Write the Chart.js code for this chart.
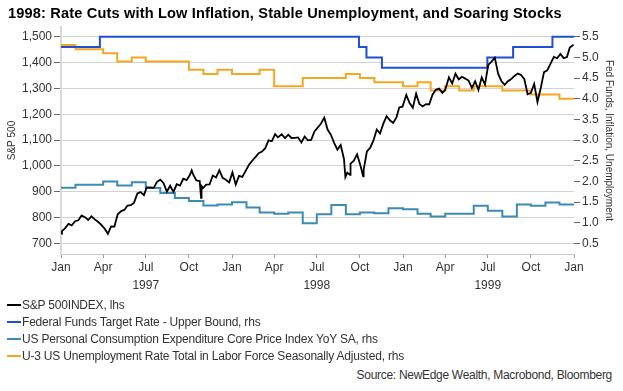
<!DOCTYPE html>
<html><head><meta charset="utf-8">
<script src="https://cdn.jsdelivr.net/npm/chart.js@4.4.1/dist/chart.umd.min.js"></script>
<style>
html,body{margin:0;padding:0;background:#fff;}
#wrap{position:relative;width:623px;height:391px;overflow:hidden;font-family:"Liberation Sans",Arial,sans-serif;}
#c{position:absolute;left:0;top:0;}
#title{position:absolute;left:8px;top:5px;font-weight:bold;font-size:14.6px;line-height:16px;color:#000;white-space:nowrap;letter-spacing:0.15px;}
.lg{position:absolute;left:7px;font-size:12px;line-height:14px;color:#333;white-space:nowrap;letter-spacing:-0.2px;}
.lg i{display:inline-block;width:14px;height:2px;vertical-align:middle;margin-right:1px;position:relative;top:-1px;}
#src{position:absolute;right:11px;font-size:12px;line-height:14px;color:#333;white-space:nowrap;letter-spacing:-0.3px;}
</style></head>
<body>
<div id="wrap">
<canvas id="c" width="623" height="300"></canvas>
<div id="title">1998: Rate Cuts with Low Inflation, Stable Unemployment, and Soaring Stocks</div>
<div class="lg" style="top:298px"><i style="background:#000"></i>S&amp;P 500INDEX, lhs</div>
<div class="lg" style="top:315px"><i style="background:#1f4fd4"></i>Federal Funds Target Rate - Upper Bound, rhs</div>
<div class="lg" style="top:332px"><i style="background:#3a8cb4"></i>US Personal Consumption Expenditure Core Price Index YoY SA, rhs</div>
<div class="lg" style="top:349px"><i style="background:#f5a623"></i>U-3 US Unemployment Rate Total in Labor Force Seasonally Adjusted, rhs</div>
<div id="src" style="top:368px">Source: NewEdge Wealth, Macrobond, Bloomberg</div>
</div>
<script>
// ---- data ----
const spDates = [
'1997-01-02','1997-01-03','1997-01-10','1997-01-17','1997-01-24','1997-01-31','1997-02-07','1997-02-14','1997-02-21','1997-02-28','1997-03-07','1997-03-14','1997-03-21','1997-03-27','1997-04-04','1997-04-11','1997-04-18','1997-04-25','1997-05-02','1997-05-09','1997-05-16','1997-05-23','1997-05-30','1997-06-06','1997-06-13','1997-06-20','1997-06-27','1997-07-03','1997-07-11','1997-07-18','1997-07-25','1997-08-01','1997-08-08','1997-08-15','1997-08-22','1997-08-29','1997-09-05','1997-09-12','1997-09-19','1997-09-26','1997-10-03','1997-10-07','1997-10-10','1997-10-17','1997-10-24','1997-10-27','1997-10-28','1997-10-31','1997-11-07','1997-11-14','1997-11-21','1997-11-28','1997-12-05','1997-12-12','1997-12-19','1997-12-26',
'1998-01-02','1998-01-09','1998-01-16','1998-01-23','1998-01-30','1998-02-06','1998-02-13','1998-02-20','1998-02-27','1998-03-06','1998-03-13','1998-03-20','1998-03-27','1998-04-03','1998-04-09','1998-04-17','1998-04-24','1998-05-01','1998-05-08','1998-05-15','1998-05-22','1998-05-29','1998-06-05','1998-06-12','1998-06-19','1998-06-26','1998-07-02','1998-07-10','1998-07-17','1998-07-24','1998-07-31','1998-08-07','1998-08-14','1998-08-21','1998-08-28','1998-08-31','1998-09-04','1998-09-10','1998-09-11','1998-09-18','1998-09-25','1998-10-02','1998-10-08','1998-10-09','1998-10-16','1998-10-23','1998-10-30','1998-11-06','1998-11-13','1998-11-20','1998-11-27','1998-12-04','1998-12-11','1998-12-18','1998-12-24','1998-12-31',
'1999-01-08','1999-01-15','1999-01-22','1999-01-29','1999-02-05','1999-02-12','1999-02-19','1999-02-26','1999-03-05','1999-03-12','1999-03-19','1999-03-26','1999-04-01','1999-04-09','1999-04-16','1999-04-23','1999-04-30','1999-05-07','1999-05-14','1999-05-21','1999-05-28','1999-06-04','1999-06-11','1999-06-18','1999-06-25','1999-07-02','1999-07-09','1999-07-16','1999-07-23','1999-07-30','1999-08-06','1999-08-13','1999-08-20','1999-08-27','1999-09-03','1999-09-10','1999-09-17','1999-09-24','1999-10-01','1999-10-08','1999-10-15','1999-10-22','1999-10-29','1999-11-05','1999-11-12','1999-11-19','1999-11-26','1999-12-03','1999-12-10','1999-12-17','1999-12-23','1999-12-31'];
const spValues = [
737.0,748.0,759.5,776.2,770.5,786.2,789.6,808.5,801.8,790.8,804.9,793.2,784.1,773.9,757.9,737.7,766.3,765.4,812.9,824.8,829.8,847.0,848.3,858.0,893.3,898.7,887.3,916.9,916.7,915.3,938.8,947.1,933.5,900.8,923.5,899.5,929.1,923.9,950.5,945.2,965.0,983.1,966.9,944.2,941.6,877.0,921.9,914.6,927.5,928.4,963.1,955.4,983.8,954.0,946.8,936.5,
975.0,927.7,961.5,957.6,980.3,1003.5,1020.1,1034.2,1049.3,1055.7,1068.6,1099.2,1095.4,1122.7,1110.7,1122.7,1107.9,1121.0,1108.1,1108.7,1110.5,1090.8,1113.9,1098.8,1100.7,1133.2,1146.4,1164.3,1186.8,1140.8,1120.7,1089.5,1062.8,1081.2,1027.1,957.3,973.9,965.5,1009.1,1020.1,1044.8,1002.6,959.4,984.6,1056.4,1070.7,1098.7,1141.0,1125.7,1163.6,1192.3,1176.7,1166.5,1188.0,1226.3,1229.2,
1275.1,1243.3,1225.2,1279.6,1239.4,1230.1,1239.2,1238.3,1275.5,1294.6,1299.3,1282.8,1293.7,1343.0,1319.0,1356.9,1335.2,1345.0,1337.8,1330.3,1301.8,1327.8,1293.6,1342.8,1315.3,1391.2,1403.3,1418.8,1356.9,1328.7,1313.7,1327.7,1336.6,1348.3,1357.2,1351.7,1335.4,1277.4,1282.8,1317.6,1247.4,1301.7,1362.9,1370.2,1396.1,1422.0,1416.6,1433.3,1417.0,1421.0,1458.3,1469.3];

const fedDates  = ['1997-01-01','1997-03-25','1998-09-29','1998-10-15','1998-11-17','1999-06-30','1999-08-24','1999-11-16','2000-01-01'];
const fedValues = [5.25,5.5,5.25,5.0,4.75,5.0,5.25,5.5,5.5];

// monthly, Jan 1997 .. Dec 1999
const pceValues = [1.85,1.92,1.92,2.00,1.90,1.98,1.84,1.72,1.60,1.53,1.42,1.44,
                   1.50,1.37,1.25,1.22,1.25,0.99,1.21,1.43,1.21,1.25,1.23,1.35,
                   1.33,1.22,1.15,1.22,1.22,1.41,1.29,1.15,1.44,1.41,1.49,1.44];
const unempValues = [5.3,5.2,5.2,5.1,4.9,5.0,4.9,4.9,4.9,4.7,4.6,4.7,
                     4.6,4.6,4.7,4.3,4.3,4.5,4.5,4.5,4.6,4.5,4.4,4.4,
                     4.3,4.4,4.2,4.3,4.2,4.3,4.3,4.2,4.2,4.1,4.1,4.0];

const monthNames = ['Jan','Apr','Jul','Oct'];
const yearLabels = ['1997','1998','1999'];
const leftTicks  = [700,800,900,1000,1100,1200,1300,1400,1500];
const rightTicks = [0.5,1.0,1.5,2.0,2.5,3.0,3.5,4.0,4.5,5.0,5.5];

// ---- helpers ----
function dayX(s){const p=s.split('-').map(Number);return (Date.UTC(p[0],p[1]-1,p[2])-Date.UTC(1997,0,1))/864e5;}
function pad(n){return (n<10?'0':'')+n;}
const monthStarts=[];
for(let y=1997;y<=1999;y++)for(let m=1;m<=12;m++)monthStarts.push(y+'-'+pad(m)+'-01');
const endDate='2000-01-01';
function monthly(vals){const d=monthStarts.map((s,i)=>({x:dayX(s),y:vals[i]}));d.push({x:dayX(endDate),y:vals[vals.length-1]});return d;}

const xTicks=[];const xLabels=[];
for(let y=0;y<3;y++)for(let q=0;q<4;q++){xTicks.push(dayX((1997+y)+'-'+pad(q*3+1)+'-01'));xLabels.push(q===2?[monthNames[q],yearLabels[y]]:monthNames[q]);}
xTicks.push(dayX(endDate));xLabels.push(monthNames[0]);

const FONT='"Liberation Sans", Arial, sans-serif';
const TXT='#333';

new Chart(document.getElementById('c'),{
  type:'line',
  data:{datasets:[
    {label:'S&P 500INDEX, lhs',data:spDates.map((d,i)=>({x:dayX(d),y:spValues[i]})),borderColor:'#000',borderWidth:1.8,yAxisID:'y'},
    {label:'Federal Funds Target Rate - Upper Bound, rhs',data:fedDates.map((d,i)=>({x:dayX(d),y:fedValues[i]})),borderColor:'#1f4fd4',borderWidth:2,stepped:true,yAxisID:'y1'},
    {label:'US Personal Consumption Expenditure Core Price Index YoY SA, rhs',data:monthly(pceValues),borderColor:'#3a8cb4',borderWidth:2,stepped:true,yAxisID:'y1'},
    {label:'U-3 US Unemployment Rate Total in Labor Force Seasonally Adjusted, rhs',data:monthly(unempValues),borderColor:'#f5a623',borderWidth:2,stepped:true,yAxisID:'y1'}
  ]},
  options:{
    responsive:false,animation:false,
    layout:{padding:{top:27,left:0,right:0,bottom:0}},
    elements:{point:{radius:0},line:{tension:0}},
    plugins:{legend:{display:false},tooltip:{enabled:false}},
    scales:{
      x:{type:'linear',min:0,max:dayX(endDate),
        afterBuildTicks:s=>{s.ticks=xTicks.map(v=>({value:v}));},
        afterFit:s=>{s.height=46;},
        ticks:{autoSkip:false,maxRotation:0,padding:1,color:TXT,font:{family:FONT,size:12,lineHeight:1.5},
          callback:(v,i)=>xLabels[i]},
        grid:{drawOnChartArea:false,tickLength:4,color:'#999'},
        border:{color:'#c8c8c8',width:1}},
      y:{type:'linear',position:'left',min:659.4,max:1537.5,
        afterBuildTicks:s=>{s.ticks=leftTicks.map(v=>({value:v}));},
        afterFit:s=>{s.width=61;},
        ticks:{padding:2,color:TXT,font:{family:FONT,size:12},callback:v=>v.toLocaleString('en-US')},
        grid:{color:'#d2d2d2',lineWidth:1,tickColor:'#666',tickLength:7},
        border:{color:'#d9d9d9',width:2},
        title:{display:true,text:'S&P 500',color:TXT,font:{family:FONT,size:10},padding:{top:6,bottom:0}}},
      y1:{type:'linear',position:'right',min:0.246,max:5.735,
        afterBuildTicks:s=>{s.ticks=rightTicks.map(v=>({value:v}));},
        afterFit:s=>{s.width=49;},
        ticks:{padding:2,color:TXT,font:{family:FONT,size:12},callback:v=>v.toFixed(1)},
        grid:{drawOnChartArea:false,tickColor:'#666',tickLength:6},
        border:{display:false},
        title:{display:true,text:'Fed Funds, Inflation, Unemployment',color:TXT,font:{family:FONT,size:10},padding:{top:8,bottom:0}}}
    }
  }
});
</script>
</body></html>
